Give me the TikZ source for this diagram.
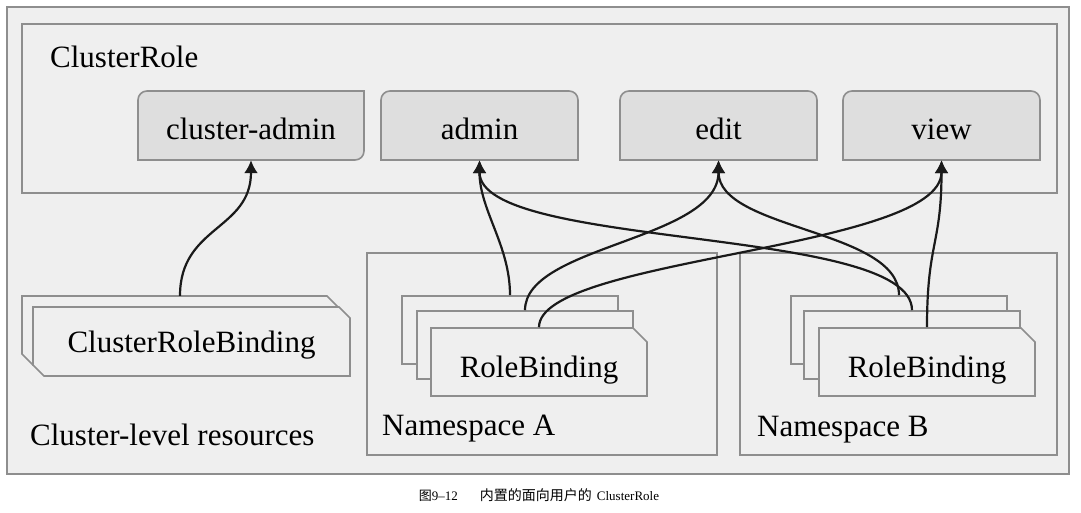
\documentclass[tikz,border=0pt]{standalone}
\usepackage{fontspec}
\setmainfont{Liberation Serif}
\newfontfamily\cjk{Noto Sans CJK SC}
\usetikzlibrary{arrows.meta}
\usetikzlibrary{shapes.misc}
\definecolor{panel}{HTML}{EFEFEF}
\definecolor{edgegray}{HTML}{8E8E8E}
\definecolor{rolefill}{HTML}{DEDEDE}
\definecolor{wire}{HTML}{1A1A1A}
\tikzset{panelbox/.style = {draw=edgegray, line width=1.8pt, fill=panel}}
\tikzset{rolebox/.style = {draw=edgegray, line width=1.6pt, fill=rolefill}}
\tikzset{cardline/.style = {draw=edgegray, line width=1.6pt, fill=panel}}
\tikzset{rolename/.style = {minimum height=69pt, text height=27pt, text depth=0pt, inner sep=0pt}}
\tikzset{card/.style = {chamfered rectangle, chamfered rectangle xsep=11pt,
                        chamfered rectangle corners=north east,
                        draw=edgegray, line width=1.6pt, fill=panel,
                        minimum width=216pt, minimum height=68pt, inner sep=0pt}}
\tikzset{bind/.style = {draw=wire, line width=2.2pt, -{Latex[length=13pt,width=14pt]}}}
\tikzset{boxtitle/.style = {anchor=base west, inner sep=0pt}}

\begin{document}
\begin{tikzpicture}[x=1pt, y=-1pt, font=\fontsize{31}{36}\selectfont]
  \useasboundingbox (0,0) rectangle (1081,512);
  \fill[white] (0,0) rectangle (1081,512);

  % frames
  \draw[panelbox] (7,7) rectangle (1069,474);
  \draw[panelbox] (22,24) rectangle (1057,193);
  \draw[panelbox] (367,253) rectangle (717,455);
  \draw[panelbox] (740,253) rectangle (1057,455);

  % cluster roles
  \draw[rolebox] (138,160) -- (138,100) .. controls (138,95) and (142,91) .. (147,91) -- (364,91)
                 -- (364,151) .. controls (364,156) and (360,160) .. (355,160) -- cycle;
  \draw[rolebox] (381,160) -- (381,100) .. controls (381,95) and (385,91) .. (390,91) -- (569,91)
                 .. controls (574,91) and (578,95) .. (578,100) -- (578,160) -- cycle;
  \draw[rolebox] (620,160) -- (620,100) .. controls (620,95) and (624,91) .. (629,91) -- (808,91)
                 .. controls (813,91) and (817,95) .. (817,100) -- (817,160) -- cycle;
  \draw[rolebox] (843,160) -- (843,100) .. controls (843,95) and (847,91) .. (852,91) -- (1031,91)
                 .. controls (1036,91) and (1040,95) .. (1040,100) -- (1040,160) -- cycle;
  \node[rolename, minimum width=226pt] (cadmin) at (251,125.5) {cluster-admin};
  \node[rolename, minimum width=197pt] (admin) at (479.5,125.5) {admin};
  \node[rolename, minimum width=197pt] (edit) at (718.5,125.5) {edit};
  \node[rolename, minimum width=197pt] (view) at (941.5,125.5) {view};

  % cluster role binding
  \draw[cardline] (22,296) -- (327,296) -- (338,307) -- (338,365) -- (33,365) -- (22,354) -- cycle;
  \draw[cardline] (33,307) -- (339,307) -- (350,318) -- (350,376) -- (44,376) -- (33,365) -- cycle;
  \node[minimum width=316pt, minimum height=69pt, inner sep=0pt] (crbback) at (180,330.5) {};
  \node[text height=21pt, text depth=0pt, inner sep=0pt] (crb) at (191.5,341.5) {ClusterRoleBinding};

  % role bindings
  \node[card] (rbAback) at (510,330) {};
  \node[card] (rbAmid) at (525,345) {};
  \node[card, text height=30pt, text depth=0pt] (rbA) at (539,362) {RoleBinding};

  \node[card] (rbBback) at (899,330) {};
  \node[card] (rbBmid) at (912,345) {};
  \node[card, text height=30pt, text depth=0pt] (rbB) at (927,362) {RoleBinding};

  % titles
  \node[boxtitle] (crtitle) at (50,67) {ClusterRole};
  \node[boxtitle] (cltitle) at (30,445) {Cluster-level resources};
  \node[boxtitle] (nsAtitle) at (382,435) {Namespace A};
  \node[boxtitle] (nsBtitle) at (757,436) {Namespace B};

  % links to roles
  \draw[bind] (crbback.north) .. controls +(0,-70) and +(0,70) .. (cadmin.south);
  \draw[bind] (rbAback.north) .. controls +(0,-50) and +(0,50) .. (admin.south);
  \draw[bind] (rbBmid.north) .. controls +(0,-85) and +(0,90) .. (admin.south);
  \draw[bind] (rbAmid.north) .. controls +(0,-65) and +(0,80) .. (edit.south);
  \draw[bind] (rbBback.north) .. controls +(0,-66) and +(0,70) .. (edit.south);
  \draw[bind] (rbA.north) .. controls +(0,-70) and +(0,90) .. (view.south);
  \draw[bind] (rbB.north) .. controls +(0,-85) and +(0,85) .. (view.south);

  \node[font=\fontsize{13}{15}\selectfont] (caption) at (539,495)
    {{\cjk 图}9–12\hspace{22pt}{\fontsize{14}{15}\selectfont\cjk 内置的面向用户的}\hspace{5pt}ClusterRole};
\end{tikzpicture}
\end{document}
